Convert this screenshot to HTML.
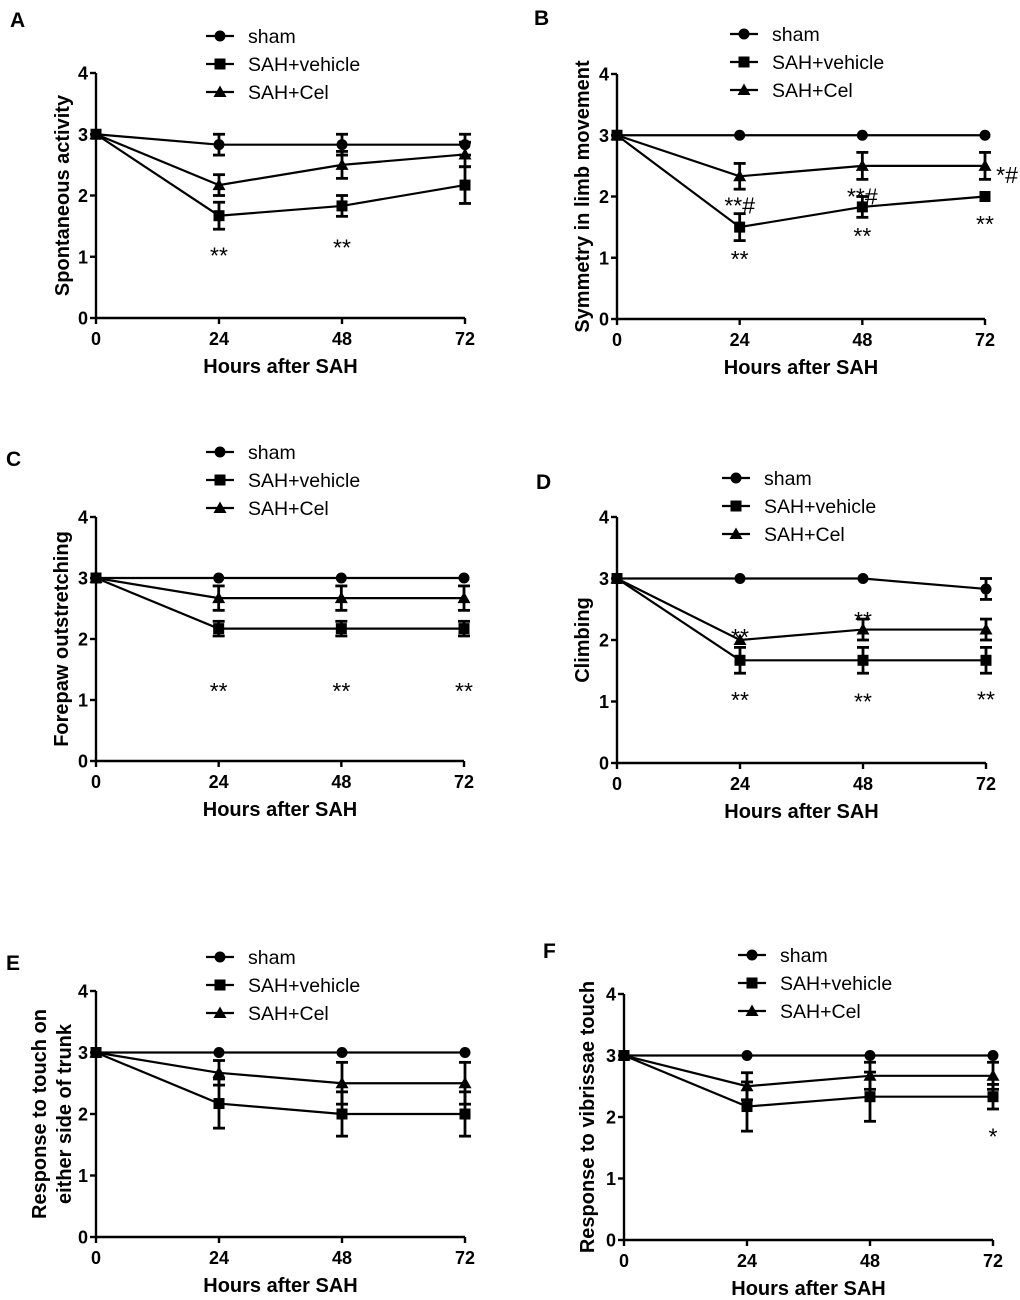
<!DOCTYPE html>
<html><head><meta charset="utf-8">
<style>
html,body{margin:0;padding:0;background:#fff;}
svg{display:block;font-family:"Liberation Sans",Arial,sans-serif;}
</style></head>
<body>
<svg id="fig" width="1020" height="1300" viewBox="0 0 1020 1300" xmlns="http://www.w3.org/2000/svg"></svg>
<script>
const hours = [0, 24, 48, 72];
const yTicks = [0, 1, 2, 3, 4];
const seriesNames = ["sham", "SAH+vehicle", "SAH+Cel"];

const panelLetters = ["A","B","C","D","E","F"];
const yTitles = [["Spontaneous activity"],["Symmetry in limb movement"],["Forepaw outstretching"],["Climbing"],["Response to touch on","either side of trunk"],["Response to vibrissae touch"]];

const shamA = [3, 2.83, 2.83, 2.83], shamAErr = [0, 0.17, 0.17, 0.17];
const vehA  = [3, 1.67, 1.83, 2.17], vehAErr  = [0, 0.22, 0.17, 0.3];
const celA  = [3, 2.17, 2.5, 2.67],  celAErr  = [0, 0.17, 0.22, 0.2];

const shamB = [3, 3, 3, 3],          shamBErr = [0, 0, 0, 0];
const vehB  = [3, 1.5, 1.83, 2],     vehBErr  = [0, 0.22, 0.17, 0];
const celB  = [3, 2.33, 2.5, 2.5],   celBErr  = [0, 0.21, 0.22, 0.22];

const shamC = [3, 3, 3, 3],          shamCErr = [0, 0, 0, 0];
const vehC  = [3, 2.17, 2.17, 2.17], vehCErr  = [0, 0.12, 0.12, 0.12];
const celC  = [3, 2.67, 2.67, 2.67], celCErr  = [0, 0.2, 0.2, 0.2];

const shamD = [3, 3, 3, 2.83],       shamDErr = [0, 0, 0, 0.17];
const vehD  = [3, 1.67, 1.67, 1.67], vehDErr  = [0, 0.21, 0.21, 0.21];
const celD  = [3, 2, 2.17, 2.17],    celDErr  = [0, 0, 0.17, 0.17];

const shamE = [3, 3, 3, 3],          shamEErr = [0, 0, 0, 0];
const vehE  = [3, 2.17, 2, 2],       vehEErr  = [0, 0.4, 0.36, 0.36];
const celE  = [3, 2.67, 2.5, 2.5],   celEErr  = [0, 0.2, 0.34, 0.34];

const shamF = [3, 3, 3, 3],          shamFErr = [0, 0, 0, 0];
const vehF  = [3, 2.17, 2.33, 2.33], vehFErr  = [0, 0.4, 0.4, 0.2];
const celF  = [3, 2.5, 2.67, 2.67],  celFErr  = [0, 0.22, 0.22, 0.22];

// annotations: [hour, value, text]
const annA = [[24, 1.12, "**"], [48, 1.25, "**"]];
const annB = [[24, 1.95, "**#"], [24, 1.08, "**"], [48, 2.1, "**#"], [48, 1.45, "**"], [72, 2.45, "*#"], [72, 1.65, "**"]];
const annC = [[24, 1.25, "**"], [48, 1.25, "**"], [72, 1.25, "**"]];
const annD = [[24, 2.15, "**"], [48, 2.42, "**"], [24, 1.12, "**"], [48, 1.1, "**"], [72, 1.13, "**"]];
const annE = [];
const annF = [[72, 1.78, "*"]];

const panels = [
 {x0:96, x1:465, y0:318, y4:73, lx:10, ly:27, legX:220, legY:36, ty:[-27], s:[shamA,vehA,celA], e:[shamAErr,vehAErr,celAErr], ann:annA},
 {x0:617,x1:985, y0:319, y4:74, lx:534,ly:25, legX:744, legY:34, ty:[-28], s:[shamB,vehB,celB], e:[shamBErr,vehBErr,celBErr], ann:annB},
 {x0:96, x1:464, y0:761, y4:517,lx:6,  ly:466,legX:220, legY:452,ty:[-28], s:[shamC,vehC,celC], e:[shamCErr,vehCErr,celCErr], ann:annC},
 {x0:617,x1:986, y0:763, y4:517,lx:536,ly:489,legX:736, legY:478,ty:[-28], s:[shamD,vehD,celD], e:[shamDErr,vehDErr,celDErr], ann:annD},
 {x0:96, x1:465, y0:1237,y4:991,lx:6,  ly:970,legX:220, legY:957,ty:[-50,-25], s:[shamE,vehE,celE], e:[shamEErr,vehEErr,celEErr], ann:annE},
 {x0:624,x1:993, y0:1240,y4:994,lx:543,ly:958,legX:752, legY:955,ty:[-30], s:[shamF,vehF,celF], e:[shamFErr,vehFErr,celFErr], ann:annF}
];

const NS = "http://www.w3.org/2000/svg";
const svg = document.getElementById("fig");
function mk(tag, attrs, parent, text){
  const el = document.createElementNS(NS, tag);
  for (const k in attrs) el.setAttribute(k, attrs[k]);
  if (text !== undefined) el.textContent = text;
  parent.appendChild(el);
  return el;
}
function marker(g, kind, cx, cy){
  let m;
  if (kind === 0) m = mk("circle", {cx:cx, cy:cy, r:5.5, fill:"#000"}, g);
  else if (kind === 1) m = mk("rect", {x:cx-5.5, y:cy-5.5, width:11, height:11, fill:"#000"}, g);
  else m = mk("polygon", {points:`${cx},${cy-6.5} ${cx+6.5},${cy+5} ${cx-6.5},${cy+5}`, fill:"#000"}, g);
  return m;
}

panels.forEach((p, pi) => {
  const g = mk("g", {}, svg);
  
  
  const xS = h => p.x0 + (h - hours[0]) / (hours[hours.length-1] - hours[0]) * (p.x1 - p.x0);
  const yS = v => p.y0 + (v - yTicks[0]) / (yTicks[yTicks.length-1] - yTicks[0]) * (p.y4 - p.y0);

  const lt = mk("text", {x:p.lx, y:p.ly, "font-size":21, "font-weight":"bold"}, g, panelLetters[pi]);
  
  

  const ax = mk("g", {stroke:"#000", "stroke-width":2.4, fill:"none"}, g);
  
  
  mk("line", {x1:p.x0, y1:yS(yTicks[yTicks.length-1]), x2:p.x0, y2:p.y0}, ax);
  mk("line", {x1:p.x0, y1:p.y0, x2:p.x1, y2:p.y0}, ax);
  yTicks.forEach(t => {
    mk("line", {x1:p.x0-6, y1:yS(t), x2:p.x0, y2:yS(t)}, ax);
    const tl = mk("text", {x:p.x0-8, y:yS(t)+6.5, "font-size":18, "font-weight":"bold", "text-anchor":"end"}, g, String(t));
    
    
  });
  hours.forEach(h => {
    mk("line", {x1:xS(h), y1:p.y0, x2:xS(h), y2:p.y0+6}, ax);
    const tl = mk("text", {x:xS(h), y:p.y0+27, "font-size":18, "font-weight":"bold", "text-anchor":"middle"}, g, String(h));
    
    
  });
  const xt = mk("text", {x:(p.x0+p.x1)/2, y:p.y0+55, "font-size":20, "font-weight":"bold", "text-anchor":"middle"}, g, "Hours after SAH");
  
  

  const yc = (p.y0 + p.y4) / 2;
  yTitles[pi].forEach((ln, li) => {
    const tx = p.x0 + p.ty[li];
    const yt = mk("text", {x:tx, y:yc, "font-size":20, "font-weight":"bold", "text-anchor":"middle", transform:`rotate(-90 ${tx} ${yc})`}, g, ln);
    
    
  });

  p.s.forEach((vals, si) => {
    const sg = mk("g", {}, g);
    
    
    const pts = vals.map((v, i) => `${xS(hours[i])},${yS(v)}`).join(" ");
    mk("polyline", {points:pts, fill:"none", stroke:"#000", "stroke-width":2.2}, sg);
    vals.forEach((v, i) => {
      const er = p.e[si][i];
      const cx = xS(hours[i]);
      if (er > 0) {
        const eb = mk("g", {stroke:"#000", "stroke-width":2.8}, sg);
        
        
        mk("line", {x1:cx, y1:yS(v-er), x2:cx, y2:yS(v+er)}, eb);
        mk("line", {x1:cx-6, y1:yS(v-er), x2:cx+6, y2:yS(v-er)}, eb);
        mk("line", {x1:cx-6, y1:yS(v+er), x2:cx+6, y2:yS(v+er)}, eb);
      }
      const m = marker(sg, si, cx, yS(v));
      
      
    });
  });

  p.ann.forEach(a => {
    const t = mk("text", {x:xS(a[0]) + (a[2]==="*#" ? 22 : 0), y:yS(a[1])+14, "font-size":23, "text-anchor":"middle"}, g, a[2]);
    
    
  });

  seriesNames.forEach((n, si) => {
    const lg = mk("g", {}, g);
    
    
    const ly = p.legY + si * 28;
    mk("line", {x1:p.legX-14, y1:ly, x2:p.legX+14, y2:ly, stroke:"#000", "stroke-width":2.2}, lg);
    marker(lg, si, p.legX, ly);
    mk("text", {x:p.legX+28, y:ly+7, "font-size":19.5}, lg, n);
  });
});
</script>
</body></html>
